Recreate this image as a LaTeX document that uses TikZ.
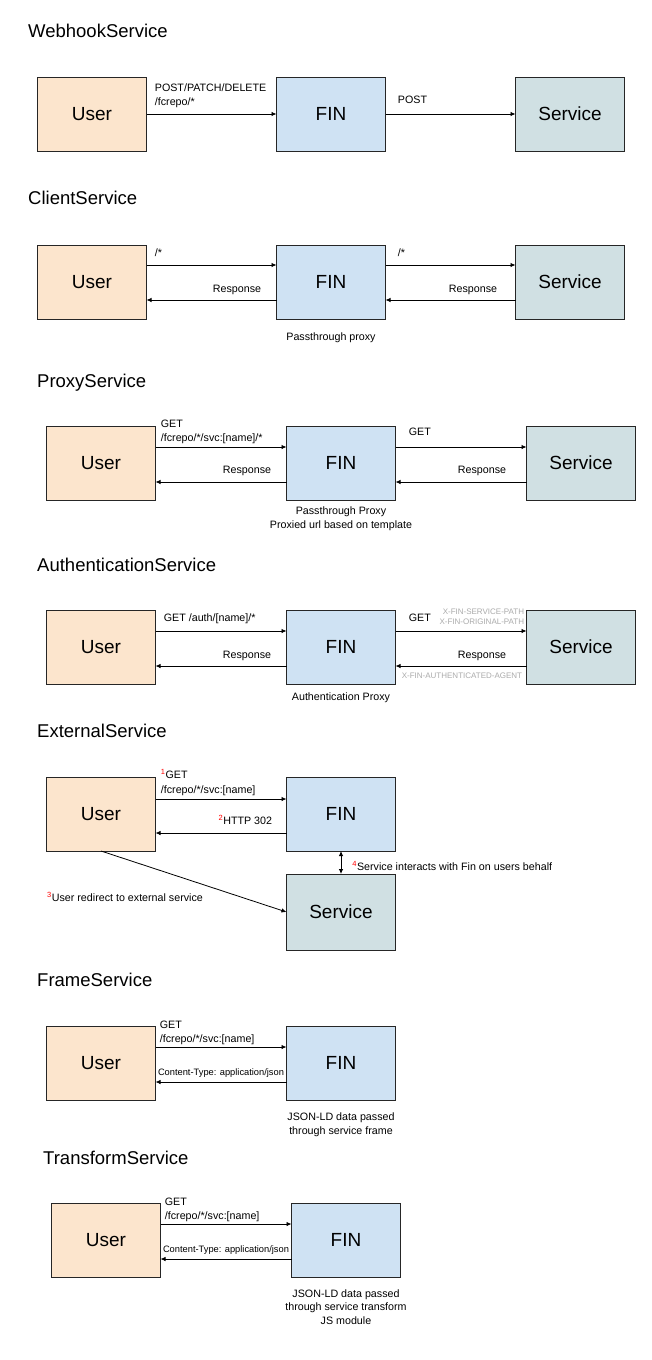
\documentclass[tikz,border=0pt]{standalone}
\usepackage{fontspec}
\setmainfont{Liberation Sans}
\usepackage{xcolor}
\usepackage{tikz}
\usetikzlibrary{arrows.meta, positioning, calc}

\definecolor{userfill}{HTML}{FCE5CD}
\definecolor{finfill}{HTML}{CFE2F3}
\definecolor{svcfill}{HTML}{D0E0E3}
\definecolor{hdrgray}{HTML}{ABABAB}
\newcommand{\stepno}[1]{\textsuperscript{\textcolor{red}{#1}}}

\begin{document}
\begin{tikzpicture}[
    x=1pt, y=-1pt,
    node distance=130pt,
    blk/.style={rectangle, draw=black!85, line width=0.8pt, minimum width=109pt, minimum height=74pt, inner sep=0pt, outer sep=0pt, font=\fontsize{19}{22}\selectfont},
    ubox/.style={blk, fill=userfill},
    fbox/.style={blk, fill=finfill},
    sbox/.style={blk, fill=svcfill},
    ttl/.style={anchor=base west, inner sep=0pt, font=\fontsize{18.5}{22}\selectfont},
    lbl/.style={inner sep=0pt, align=left, font=\fontsize{10.7}{13.5}\selectfont},
    notetxt/.style={inner sep=0pt, align=center, anchor=base, font=\fontsize{10.7}{13.5}\selectfont},
    ctype/.style={inner sep=0pt, font=\fontsize{9.3}{11}\selectfont},
    hdrtxt/.style={inner sep=0pt, align=right, text=hdrgray, font=\fontsize{8}{9.5}\selectfont},
    arr/.style={-{Latex[length=5pt,width=4.5pt]}, line width=0.8pt},
    darr/.style={{Latex[length=5pt,width=4.5pt]}-{Latex[length=5pt,width=4.5pt]}, line width=0.8pt}
]
\fill[white] (0,0) rectangle (651,1360);
\useasboundingbox (0,0) rectangle (651,1360);

% WebhookService
\node[ttl] (webttl) at (28,37) {WebhookService};
\node[ubox] (webuser) at (92,114) {User};
\node[fbox, right=of webuser] (webfin) {FIN};
\node[sbox, right=of webfin] (websvc) {Service};
\draw[arr] (webuser) -- (webfin) node[lbl, pos=0, anchor=base west, xshift=8pt, yshift=9pt] {POST/PATCH/DELETE\\/fcrepo/*};
\draw[arr] (webfin) -- (websvc) node[lbl, pos=0, anchor=base west, xshift=12pt, yshift=11pt] {POST};

% ClientService
\node[ttl] (clittl) at (28,204) {ClientService};
\node[ubox] (cliuser) at (92,282) {User};
\node[fbox, right=of cliuser] (clifin) {FIN};
\node[sbox, right=of clifin] (clisvc) {Service};
\draw[arr] ([yshift=17pt]cliuser.east) -- ([yshift=17pt]clifin.west) node[lbl, pos=0, anchor=base west, xshift=8pt, yshift=9pt] {/*};
\draw[arr] ([yshift=17pt]clifin.east) -- ([yshift=17pt]clisvc.west) node[lbl, pos=0, anchor=base west, xshift=12pt, yshift=9pt] {/*};
\draw[arr] ([yshift=-18pt]clifin.west) -- ([yshift=-18pt]cliuser.east) node[lbl, pos=0, anchor=base east, xshift=-15pt, yshift=8pt] {Response};
\draw[arr] ([yshift=-18pt]clisvc.west) -- ([yshift=-18pt]clifin.east) node[lbl, pos=0, anchor=base east, xshift=-18pt, yshift=8pt] {Response};
\node[notetxt] (clinote) at ([yshift=-21pt]clifin.south) {Passthrough proxy};

% ProxyService
\node[ttl] (prxttl) at (37,387) {ProxyService};
\node[ubox] (prxuser) at (101,463) {User};
\node[fbox, right=131pt of prxuser] (prxfin) {FIN};
\node[sbox, right=131pt of prxfin] (prxsvc) {Service};
\draw[arr] ([yshift=16pt]prxuser.east) -- ([yshift=16pt]prxfin.west) node[lbl, pos=0, anchor=base west, xshift=5pt, yshift=6pt] {GET\\/fcrepo/*/svc:[name]/*};
\draw[arr] ([yshift=16pt]prxfin.east) -- ([yshift=16pt]prxsvc.west) node[lbl, pos=0, anchor=base west, xshift=13pt, yshift=12pt] {GET};
\draw[arr] ([yshift=-19pt]prxfin.west) -- ([yshift=-19pt]prxuser.east) node[lbl, pos=0, anchor=base east, xshift=-15pt, yshift=9pt] {Response};
\draw[arr] ([yshift=-19pt]prxsvc.west) -- ([yshift=-19pt]prxfin.east) node[lbl, pos=0, anchor=base east, xshift=-20pt, yshift=9pt] {Response};
\node[notetxt] (prxnote) at ([yshift=-28pt]prxfin.south) {Passthrough Proxy\\Proxied url based on template};

% AuthenticationService
\node[ttl] (authttl) at (37,571) {AuthenticationService};
\node[ubox] (authuser) at (101,647) {User};
\node[fbox, right=131pt of authuser] (authfin) {FIN};
\node[sbox, right=131pt of authfin] (authsvc) {Service};
\draw[arr] ([yshift=16pt]authuser.east) -- ([yshift=16pt]authfin.west) node[lbl, pos=0, anchor=base west, xshift=8pt, yshift=10pt] {GET /auth/[name]/*};
\draw[arr] ([yshift=16pt]authfin.east) -- ([yshift=16pt]authsvc.west)
    node[lbl, pos=0, anchor=base west, xshift=13pt, yshift=10pt] {GET}
    node[hdrtxt, pos=1, anchor=base east, xshift=-2pt, yshift=7pt] {X-FIN-SERVICE-PATH\\X-FIN-ORIGINAL-PATH};
\draw[arr] ([yshift=-19pt]authfin.west) -- ([yshift=-19pt]authuser.east) node[lbl, pos=0, anchor=base east, xshift=-15pt, yshift=8pt] {Response};
\draw[arr] ([yshift=-19pt]authsvc.west) -- ([yshift=-19pt]authfin.east)
    node[lbl, pos=0, anchor=base east, xshift=-20pt, yshift=8pt] {Response}
    node[hdrtxt, pos=0, anchor=base east, xshift=-4pt, yshift=-12pt] {X-FIN-AUTHENTICATED-AGENT};
\node[notetxt] (authnote) at ([yshift=-16pt]authfin.south) {Authentication Proxy};

% ExternalService
\node[ttl] (extttl) at (37,737) {ExternalService};
\node[ubox] (extuser) at (101,814) {User};
\node[fbox, right=131pt of extuser] (extfin) {FIN};
\node[sbox, minimum height=76pt, below=23pt of extfin] (extsvc) {Service};
\draw[arr] ([yshift=15pt]extuser.east) -- ([yshift=15pt]extfin.west) node[lbl, pos=0, anchor=base west, xshift=5pt, yshift=6pt] {\stepno{1}GET\\[1pt]/fcrepo/*/svc:[name]};
\draw[arr] ([yshift=-19pt]extfin.west) -- ([yshift=-19pt]extuser.east) node[lbl, pos=0, anchor=base east, xshift=-14pt, yshift=9pt] {\stepno{2}HTTP 302};
\draw[darr] (extfin) -- (extsvc) node[lbl, midway, anchor=base west, xshift=11pt, yshift=-8pt] {\stepno{4}Service interacts with Fin on users behalf};
\draw[arr] (extuser.south) -- (extsvc.west);
\node[lbl, anchor=base west] (extredir) at (47,901) {\stepno{3}User redirect to external service};

% FrameService
\node[ttl] (frmttl) at (37,986) {FrameService};
\node[ubox] (frmuser) at (101,1063) {User};
\node[fbox, right=131pt of frmuser] (frmfin) {FIN};
\draw[arr] ([yshift=16pt]frmuser.east) -- ([yshift=16pt]frmfin.west) node[lbl, pos=0, anchor=base west, xshift=4pt, yshift=5pt] {GET\\/fcrepo/*/svc:[name]};
\draw[arr] ([yshift=-19pt]frmfin.west) -- ([yshift=-19pt]frmuser.east) node[ctype, midway, anchor=base, yshift=7pt] {Content-Type: application/json};
\node[notetxt] (frmnote) at ([yshift=-34pt]frmfin.south) {JSON-LD data passed\\through service frame};

% TransformService
\node[ttl] (trfttl) at (43,1164) {TransformService};
\node[ubox] (trfuser) at (106,1240) {User};
\node[fbox, right=131pt of trfuser] (trffin) {FIN};
\draw[arr] ([yshift=16pt]trfuser.east) -- ([yshift=16pt]trffin.west) node[lbl, pos=0, anchor=base west, xshift=4pt, yshift=5pt] {GET\\/fcrepo/*/svc:[name]};
\draw[arr] ([yshift=-19pt]trffin.west) -- ([yshift=-19pt]trfuser.east) node[ctype, midway, anchor=base, yshift=7pt] {Content-Type: application/json};
\node[notetxt] (trfnote) at ([yshift=-47pt]trffin.south) {JSON-LD data passed\\through service transform\\JS module};

\end{tikzpicture}
\end{document}
